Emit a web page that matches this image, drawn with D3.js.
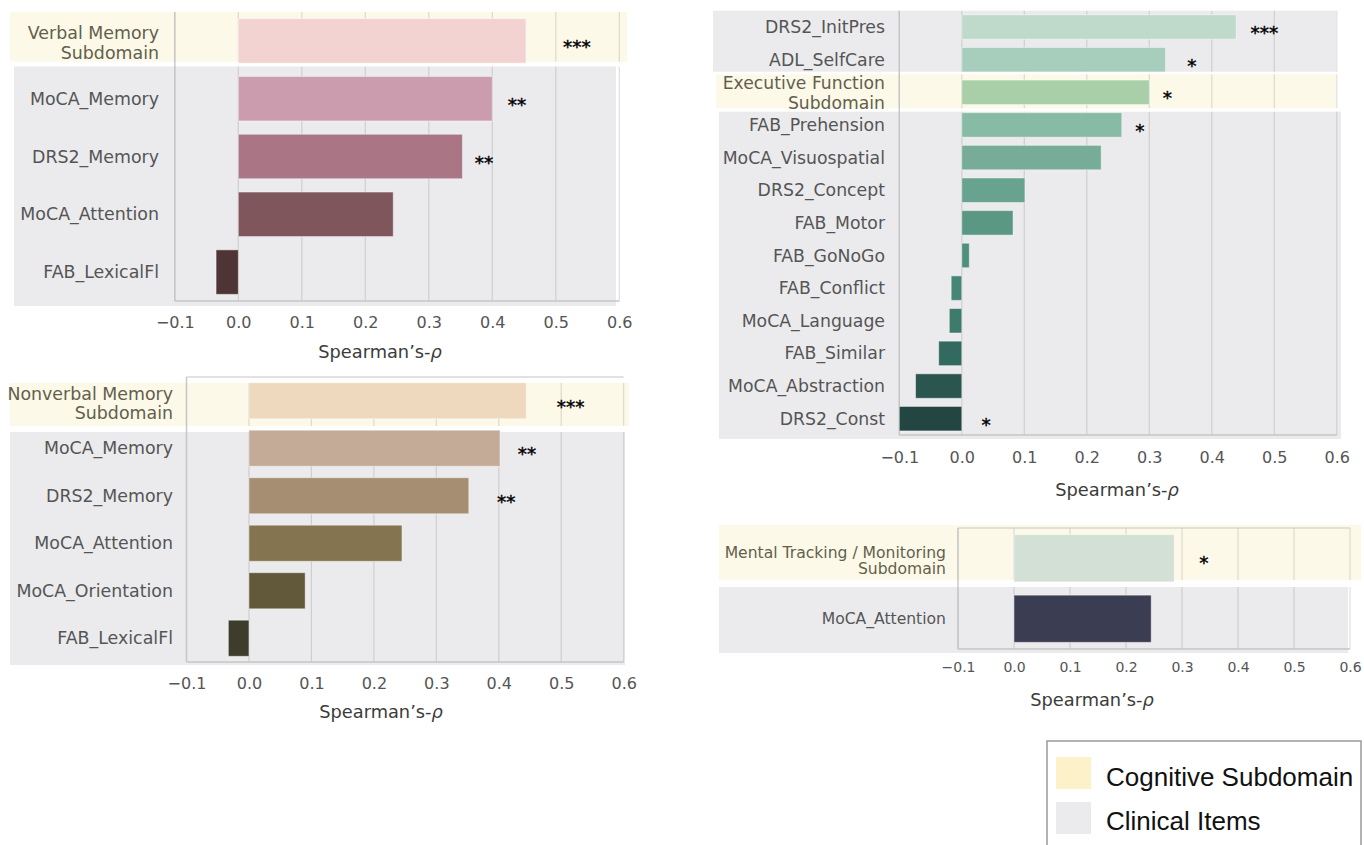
<!DOCTYPE html>
<html>
<head>
<meta charset="utf-8">
<script src="https://cdn.jsdelivr.net/npm/d3@7"></script>
<style>
  body { margin: 0; background: #fff; }
  svg { display: block; }
</style>
</head>
<body>
<svg id="chart" width="1364" height="845"></svg>
<script>
// ---- Data: Spearman correlations per cognitive subdomain and its clinical items ----
const verbalCats   = ["Verbal Memory\nSubdomain", "MoCA_Memory", "DRS2_Memory", "MoCA_Attention", "FAB_LexicalFl"];
const verbalVals   = [0.453, 0.400, 0.353, 0.244, -0.035];
const verbalStars  = ["***", "**", "**", "", ""];
const verbalStarAt = [0.533, 0.439, 0.387, null, null];   // marker centres, in rho units

const nonverbalCats   = ["Nonverbal Memory\nSubdomain", "MoCA_Memory", "DRS2_Memory", "MoCA_Attention", "MoCA_Orientation", "FAB_LexicalFl"];
const nonverbalVals   = [0.444, 0.402, 0.352, 0.245, 0.090, -0.033];
const nonverbalStars  = ["***", "**", "**", "", "", ""];
const nonverbalStarAt = [0.515, 0.445, 0.412, null, null, null];

const execCats   = ["DRS2_InitPres", "ADL_SelfCare", "Executive Function\nSubdomain", "FAB_Prehension", "MoCA_Visuospatial",
                    "DRS2_Concept", "FAB_Motor", "FAB_GoNoGo", "FAB_Conflict", "MoCA_Language", "FAB_Similar",
                    "MoCA_Abstraction", "DRS2_Const"];
const execVals   = [0.439, 0.326, 0.300, 0.256, 0.223, 0.101, 0.082, 0.012, -0.017, -0.020, -0.037, -0.074, -0.100];
const execStars  = ["***", "*", "*", "*", "", "", "", "", "", "", "", "", "*"];
const execStarAt = [0.484, 0.368, 0.329, 0.285, null, null, null, null, null, null, null, null, 0.039];

const trackingCats   = ["Mental Tracking / Monitoring\nSubdomain", "MoCA_Attention"];
const trackingVals   = [0.286, 0.245];
const trackingStars  = ["*", ""];
const trackingStarAt = [0.339, null];

const tickValues   = [-0.1, 0.0, 0.1, 0.2, 0.3, 0.4, 0.5, 0.6];
const legendLabels = ["Cognitive Subdomain", "Clinical Items"];

// ---- Styles ----
const verbalColors    = ["#f2d3d2", "#cb9bae", "#aa7686", "#7f565c", "#4f3435"];
const nonverbalColors = ["#eed9be", "#c4ab98", "#a58e72", "#84744f", "#62583a", "#3e3c2b"];
const execColors      = ["#bfdacb", "#a7cdbd", "#a8cfa8", "#88bba6", "#77ac99", "#67a38f", "#5a9884",
                         "#4f8f7c", "#478676", "#3e7b6d", "#336a60", "#2a564f", "#244642"];
const trackingColors  = ["#d3e0d5", "#3b3d52"];
const legendFills     = ["#fcf1c9", "#ebebee"];

const SUB_FILL  = "#fdf9e9";
const CLIN_FILL = "#ebebee";
const FONT = "DejaVu Sans, sans-serif";

const svg = d3.select("#chart");

function drawPanel(cats, vals, colors, stars, starAt, subIndex, L) {
  const x = d3.scaleLinear().domain([-0.1, 0.6]).range([L.x0, L.x1]);
  const y = d3.scaleBand().domain(d3.range(cats.length))
    .range([L.yTop, L.yBot]).paddingInner(L.pad).paddingOuter(L.pad / 2);
  const g = svg.append("g");

  // row-group backgrounds
  g.selectAll("rect.band").data(L.bands).join("rect")
    .attr("x", d => d.x0).attr("y", d => d.y0)
    .attr("width", d => d.x1 - d.x0).attr("height", d => d.y1 - d.y0)
    .attr("fill", d => d.sub ? SUB_FILL : CLIN_FILL);

  // vertical gridlines, interrupted between backgrounds
  L.bands.forEach(b => {
    const ya = Math.max(b.y0, L.yTop), yb = Math.min(b.y1, L.yBot);
    g.selectAll(null).data(tickValues).join("line")
      .attr("x1", d => x(d)).attr("x2", d => x(d))
      .attr("y1", ya).attr("y2", yb)
      .attr("stroke", "rgba(110,110,110,0.22)").attr("stroke-width", 1.2);
  });

  // spines
  const spine = "#c6c6c6";
  g.append("line").attr("x1", L.x0).attr("x2", L.x0).attr("y1", L.yTop).attr("y2", L.yBot)
    .attr("stroke", spine).attr("stroke-width", 1.4);
  g.append("line").attr("x1", L.x0).attr("x2", L.x1).attr("y1", L.yBot).attr("y2", L.yBot)
    .attr("stroke", spine).attr("stroke-width", 1.4);
  if (L.topSpine) {
    g.append("line").attr("x1", L.x0).attr("x2", L.x1).attr("y1", L.yTop).attr("y2", L.yTop)
      .attr("stroke", spine).attr("stroke-width", 1.2);
  }

  // bars
  g.selectAll("rect.bar").data(vals).join("rect")
    .attr("x", d => x(Math.min(0, d)))
    .attr("width", d => Math.abs(x(d) - x(0)))
    .attr("y", (d, i) => y(i))
    .attr("height", y.bandwidth())
    .attr("fill", (d, i) => colors[i])
    .attr("stroke", "rgba(255,255,255,0.45)").attr("stroke-width", 1);

  // category labels (subdomain names span two lines)
  const lab = g.selectAll("text.cat").data(cats).join("text")
    .attr("x", L.labelX)
    .attr("y", (d, i) => y(i) + y.bandwidth() / 2 + (i === subIndex ? L.subDy : 0))
    .attr("text-anchor", "end")
    .attr("font-family", FONT)
    .attr("font-size", (d, i) => i === subIndex ? L.subFont : L.labelFont)
    .attr("fill", (d, i) => i === subIndex ? "#625f4c" : "#555");
  lab.each(function(d) {
    const lines = d.split("\n");
    const t = d3.select(this);
    lines.forEach((ln, k) => {
      t.append("tspan").attr("x", L.labelX)
        .attr("dy", k === 0 ? `${0.35 - (lines.length - 1) * L.lineGap / 2}em` : `${L.lineGap}em`)
        .text(ln);
    });
  });

  // significance markers
  stars.forEach((s, i) => {
    if (!s) return;
    g.append("text")
      .attr("x", x(starAt[i]))
      .attr("y", y(i) + y.bandwidth() / 2 + L.starDy)
      .attr("text-anchor", "middle")
      .attr("font-family", FONT).attr("font-size", 18.5)
      .attr("fill", "#000").attr("stroke", "#000").attr("stroke-width", 0.4)
      .text(s);
  });

  // x axis
  const ax = g.append("g").attr("transform", `translate(0,${L.tickY})`)
    .call(d3.axisBottom(x).tickValues(tickValues).tickSize(0).tickPadding(0).tickFormat(d3.format(".1f")));
  ax.select(".domain").remove();
  ax.selectAll("text").attr("y", 0).attr("dy", "0.35em")
    .attr("font-family", FONT).attr("font-size", L.tickFont).attr("fill", "#555");

  // axis title
  const tt = g.append("text").attr("x", L.titleX).attr("y", L.titleY).attr("dy", "0.35em")
    .attr("text-anchor", "middle").attr("font-family", FONT).attr("font-size", 17.8).attr("fill", "#3b3b3b");
  tt.append("tspan").text("Spearman’s-");
  tt.append("tspan").attr("font-style", "italic").text("ρ");
}

// Verbal memory
drawPanel(verbalCats, verbalVals, verbalColors, verbalStars, verbalStarAt, 0, {
  x0: 174.8, x1: 619.3, yTop: 12, yBot: 301, pad: 0.23,
  bands: [{x0: 10, y0: 12, x1: 627, y1: 61.7, sub: true}, {x0: 14, y0: 66.5, x1: 616, y1: 306, sub: false}],
  labelX: 159, labelFont: 17.4, subFont: 17.4, subDy: 2, lineGap: 1.15, starDy: 12,
  tickY: 322, tickFont: 16, titleX: 380, titleY: 352
});

// Nonverbal memory
drawPanel(nonverbalCats, nonverbalVals, nonverbalColors, nonverbalStars, nonverbalStarAt, 0, {
  x0: 186.5, x1: 623.7, yTop: 377, yBot: 662, pad: 0.24, topSpine: true,
  bands: [{x0: 10, y0: 383, x1: 629, y1: 426, sub: true}, {x0: 10, y0: 432, x1: 625, y1: 665, sub: false}],
  labelX: 173, labelFont: 17.4, subFont: 17.4, subDy: 3, lineGap: 1.1, starDy: 12,
  tickY: 683, tickFont: 16, titleX: 381, titleY: 712
});

// Executive function
drawPanel(execCats, execVals, execColors, execStars, execStarAt, 2, {
  x0: 899.3, x1: 1336.8, yTop: 10.7, yBot: 435, pad: 0.25,
  bands: [{x0: 713, y0: 10.7, x1: 1336, y1: 71.7, sub: false},
          {x0: 716, y0: 74.3, x1: 1336, y1: 108.3, sub: true},
          {x0: 719, y0: 111.7, x1: 1341, y1: 439, sub: false}],
  labelX: 885, labelFont: 17.3, subFont: 17.2, subDy: 1, lineGap: 1.15, starDy: 12,
  tickY: 457, tickFont: 16, titleX: 1117, titleY: 490
});

// Mental tracking / monitoring
drawPanel(trackingCats, trackingVals, trackingColors, trackingStars, trackingStarAt, 0, {
  x0: 958, x1: 1350, yTop: 528, yBot: 649, pad: 0.22, topSpine: true,
  bands: [{x0: 719, y0: 525, x1: 1361, y1: 580, sub: true}, {x0: 719, y0: 587, x1: 1348, y1: 653, sub: false}],
  labelX: 946, labelFont: 15.6, subFont: 15.6, subDy: 2, lineGap: 1.05, starDy: 11,
  tickY: 667, tickFont: 14, titleX: 1092, titleY: 700
});

// Legend
const legend = svg.append("g");
legend.append("rect").attr("x", 1047).attr("y", 741).attr("width", 314).attr("height", 115)
  .attr("fill", "#fff").attr("stroke", "#9a9a9a").attr("stroke-width", 1.5);
legend.selectAll("rect.sw").data(legendLabels).join("rect")
  .attr("x", 1056).attr("y", (d, i) => 757 + i * 45)
  .attr("width", 35).attr("height", 32)
  .attr("fill", (d, i) => legendFills[i]);
legend.selectAll("text.lg").data(legendLabels).join("text")
  .attr("x", 1106).attr("y", (d, i) => 786 + i * 44)
  .attr("font-family", "Liberation Sans, Arial, sans-serif").attr("font-size", 26)
  .attr("fill", "#111").text(d => d);
</script>
</body>
</html>
